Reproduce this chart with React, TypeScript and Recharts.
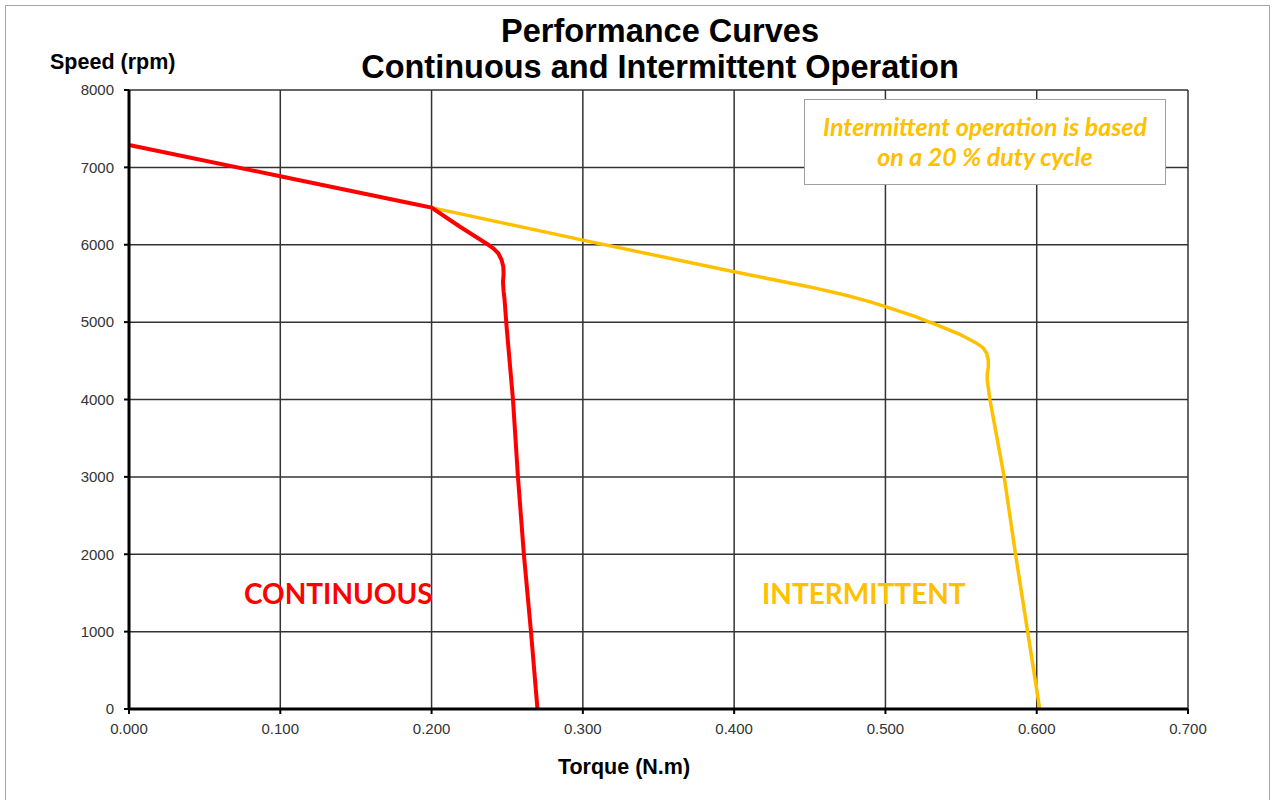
import { LineChart, Line, XAxis, YAxis, CartesianGrid } from "recharts";

// torque (N.m) / speed (rpm)
const continuousTorque = [0, 0.1, 0.19, 0.2, 0.2188, 0.2375, 0.2408, 0.2441, 0.2463, 0.2474, 0.2476, 0.2472, 0.2476, 0.2482, 0.2496, 0.2538, 0.2571, 0.261, 0.2657, 0.27];
const continuousSpeed = [7290, 6885, 6520, 6480, 6233, 6000, 5954, 5890, 5803, 5717, 5620, 5520, 5400, 5300, 4940, 4000, 3000, 2000, 1000, 0];

const intermittentTorque = [0.2, 0.3, 0.4, 0.45, 0.4733, 0.49, 0.5, 0.51, 0.52, 0.5294, 0.5316, 0.55, 0.5603, 0.5645, 0.5669, 0.568, 0.568, 0.5673, 0.5673, 0.5691, 0.5785, 0.586, 0.594, 0.602];
const intermittentSpeed = [6480, 6060, 5650, 5455, 5350, 5262, 5200, 5135, 5070, 4998, 4985, 4834, 4726, 4670, 4597, 4510, 4424, 4320, 4252, 3994, 3000, 2000, 1000, 0];

const torqueTicks = [0, 0.1, 0.2, 0.3, 0.4, 0.5, 0.6, 0.7];
const speedTicks = [0, 1000, 2000, 3000, 4000, 5000, 6000, 7000, 8000];

const RED = "#ff0000";
const YELLOW = "#ffc000";

const continuous = continuousTorque.map((t, i) => ({ torque: t, speed: continuousSpeed[i] }));
const intermittent = intermittentTorque.map((t, i) => ({ torque: t, speed: intermittentSpeed[i] }));

const tickStyle = { fontFamily: "Liberation Sans, Arial, sans-serif", fontSize: 15, fill: "#333" };

export default function App() {
  return (
    <div
      style={{
        position: "absolute",
        left: 0,
        top: 0,
        width: 1273,
        height: 800,
        background: "#fff",
        fontFamily: "Liberation Sans, Arial, sans-serif",
        overflow: "hidden",
      }}
    >
      <div
        style={{
          position: "absolute",
          left: 5,
          top: 5,
          width: 1263,
          height: 820,
          border: "1px solid #a6a6a6",
        }}
      />
      <div style={{ position: "absolute", left: 0, width: 1320, top: 13, textAlign: "center", fontWeight: "bold", fontSize: 32.5, lineHeight: "36px", color: "#000" }}>
        Performance Curves
        <br />
        Continuous and Intermittent Operation
      </div>
      <div style={{ position: "absolute", left: 50, top: 50, fontWeight: "bold", fontSize: 21.5, lineHeight: "24px", color: "#000" }}>Speed (rpm)</div>
      <div style={{ position: "absolute", left: 0, width: 1248, top: 755, textAlign: "center", fontWeight: "bold", fontSize: 21.5, lineHeight: "24px", color: "#000" }}>
        Torque (N.m)
      </div>

      <LineChart
        width={1273}
        height={800}
        margin={{ top: 90, right: 85, bottom: 61, left: 69 }}
        style={{ position: "absolute", left: 0, top: 0 }}
      >
        <CartesianGrid stroke="#333" strokeWidth={1.5} />
        <XAxis
          type="number"
          dataKey="torque"
          domain={[0, 0.7]}
          ticks={torqueTicks}
          tickFormatter={(v: number) => v.toFixed(3)}
          axisLine={{ stroke: "#000", strokeWidth: 3 }}
          tickLine={{ stroke: "#000", strokeWidth: 2 }}
          tickSize={5}
          tickMargin={9}
          tick={tickStyle}
          height={30}
        />
        <YAxis
          type="number"
          dataKey="speed"
          domain={[0, 8000]}
          ticks={speedTicks}
          width={60}
          axisLine={{ stroke: "#000", strokeWidth: 3 }}
          tickLine={{ stroke: "#000", strokeWidth: 2 }}
          tickSize={5}
          tickMargin={10}
          tick={tickStyle}
        />
        <Line
          data={intermittent}
          dataKey="speed"
          type="linear"
          stroke={YELLOW}
          strokeWidth={3.5}
          strokeLinejoin="round"
          dot={false}
          isAnimationActive={false}
        />
        <Line
          data={continuous}
          dataKey="speed"
          type="linear"
          stroke={RED}
          strokeWidth={4}
          strokeLinejoin="round"
          dot={false}
          isAnimationActive={false}
        />
      </LineChart>

      <div
        style={{
          position: "absolute",
          left: 804,
          top: 99,
          width: 362,
          height: 86,
          background: "#fff",
          border: "1.5px solid #a0a0a0",
          boxSizing: "border-box",
          textAlign: "center",
          color: YELLOW,
          fontFamily: "Lato, 'Open Sans', sans-serif",
          fontStyle: "italic",
          fontWeight: "bold",
          fontSize: 25,
          lineHeight: "30px",
          paddingTop: 11,
          whiteSpace: "nowrap",
        }}
      >
        Intermittent operation is based
        <br />
        on a 20 % duty cycle
      </div>
      <div style={{ position: "absolute", left: 244, top: 576, color: RED, fontFamily: "Lato, sans-serif", fontWeight: "bold", fontSize: 28 }}>
        CONTINUOUS
      </div>
      <div style={{ position: "absolute", left: 762, top: 576, color: YELLOW, fontFamily: "Lato, sans-serif", fontWeight: "bold", fontSize: 28 }}>
        INTERMITTENT
      </div>
    </div>
  );
}
